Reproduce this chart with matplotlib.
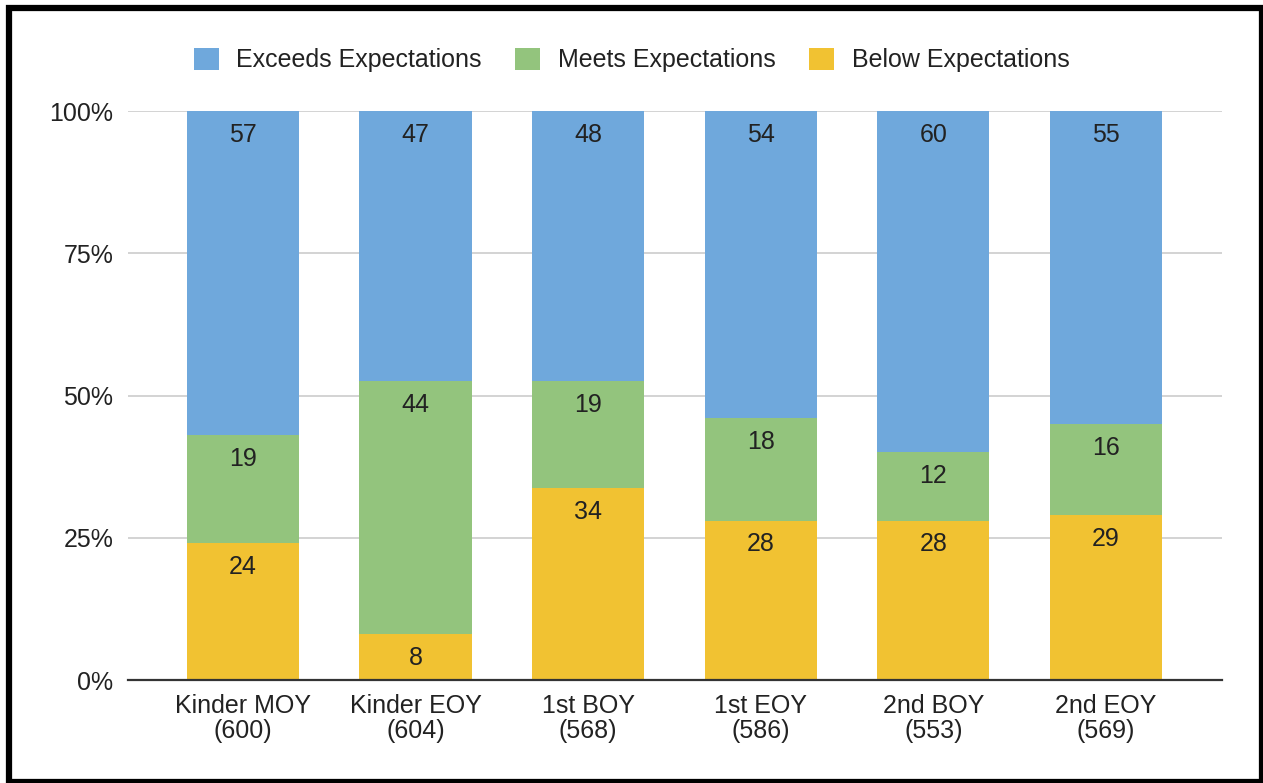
import matplotlib.pyplot as plt
import matplotlib.patches as patches
import numpy as np

plt.rcParams['font.family'] = ['Liberation Sans', 'DejaVu Sans']

categories = ["Kinder MOY\n(600)", "Kinder EOY\n(604)", "1st BOY\n(568)",
              "1st EOY\n(586)", "2nd BOY\n(553)", "2nd EOY\n(569)"]
below = [24, 8, 34, 28, 28, 29]
meets = [19, 44, 19, 18, 12, 16]
exceeds = [57, 47, 48, 54, 60, 55]

series_names = ["Exceeds Expectations", "Meets Expectations", "Below Expectations"]
colors = {"Exceeds Expectations": "#6fa8dc",
          "Meets Expectations": "#93c47d",
          "Below Expectations": "#f1c232"}
text_col = "#222222"
fs = 18

fig = plt.figure(figsize=(12.63, 7.83), dpi=100)
ax = fig.add_axes([0.1013, 0.1315, 0.8662, 0.7267])

x = np.arange(len(categories))
tot = np.array(below) + np.array(meets) + np.array(exceeds)
stack = [("Below Expectations", below), ("Meets Expectations", meets),
         ("Exceeds Expectations", exceeds)]
bottom = np.zeros(len(x))
handles = {}
for name, vals in stack:
    h = np.array(vals) / tot * 100
    bars = ax.bar(x, h, bottom=bottom, width=0.649, color=colors[name],
                  zorder=2, label=name)
    handles[name] = bars
    for xi, b, hh, v in zip(x, bottom, h, vals):
        ax.annotate(str(v), (xi, b + hh), xytext=(0, -17), textcoords='offset points',
                    ha='center', va='center', fontsize=fs, color=text_col, zorder=3)
    bottom = bottom + h

ax.set_xlim(-0.666, 5.672)
ax.set_ylim(0, 100)
ax.set_yticks([0, 25, 50, 75, 100])
ax.set_yticklabels(["0%", "25%", "50%", "75%", "100%"])
ax.set_xticks(x)
ax.set_xticklabels(categories, linespacing=1.05)
ax.tick_params(axis='both', length=0, labelsize=fs, colors=text_col)
ax.tick_params(axis='y', pad=10.5)
ax.tick_params(axis='x', pad=10)
ax.grid(axis='y', color='#cccccc', linewidth=1.2, zorder=0)
for s in ['top', 'right', 'left']:
    ax.spines[s].set_visible(False)
ax.spines['bottom'].set_color('#333333')
ax.spines['bottom'].set_linewidth(1.6)
ax.spines['bottom'].set_zorder(4)

fig.legend([handles[n] for n in series_names], series_names, ncol=3,
           loc='center', bbox_to_anchor=(0.5, 1 - 60 / 783), frameon=False,
           fontsize=fs, handlelength=1.0, handleheight=1.0, handletextpad=0.72,
           columnspacing=1.32, labelcolor=text_col)

# black frame around the picture
fig.patches.append(patches.Rectangle((9 / 1263, 1.5 / 783), 1252.5 / 1263, 773.5 / 783,
                                     transform=fig.transFigure, fill=False,
                                     edgecolor='black', linewidth=4.5))

fig.savefig("out.png", dpi=100)
